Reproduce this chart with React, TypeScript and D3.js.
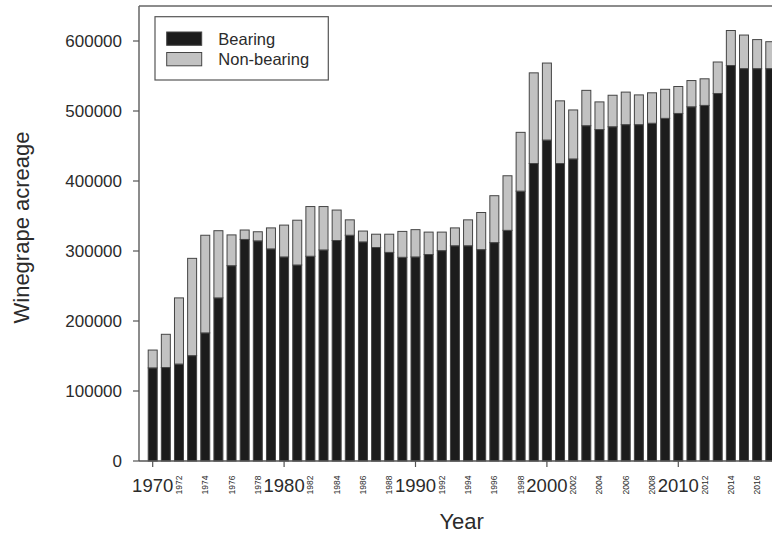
import React from "react";
import * as d3 from "d3";

const years: number[] = d3.range(1970, 2018);
const bearing: number[] = [
  133000, 133500, 138500, 150500, 183000, 233000, 279000, 316500, 314500, 303000,
  291500, 280000, 292500, 301500, 315000, 322500, 313000, 305000, 298000, 291000,
  291500, 295000, 300500, 307500, 307500, 302000, 312000, 329500, 385500, 425000,
  458500, 425000, 431500, 479000, 473500, 477500, 480500, 480500, 482500, 489500,
  496500, 506000, 508000, 525000, 565000, 560500, 560500, 560500,
];
const nonBearing: number[] = [
  25500, 47500, 94500, 139000, 139500, 96000, 44000, 13500, 13000, 30000,
  45500, 64000, 71000, 62000, 43500, 22000, 15500, 19000, 26000, 37000,
  39000, 32000, 26500, 25500, 37000, 53000, 67000, 78000, 84000, 129500,
  110000, 89500, 70000, 50500, 39500, 45000, 46500, 42500, 43500, 41500,
  38500, 37500, 38000, 45000, 50000, 48000, 41500, 38500,
];
const yTicks: number[] = [0, 100000, 200000, 300000, 400000, 500000, 600000];
const majorYears: number[] = [1970, 1980, 1990, 2000, 2010];
const minorYears: number[] = years.filter((y) => y % 2 === 0 && y % 10 !== 0);
const seriesNames: string[] = ["Bearing", "Non-bearing"];

const W = 772;
const H = 533;
const FONT = "'Liberation Sans', Arial, sans-serif";
const TXT = "#2b2b2b";
const BLACK = "#1c1c1c";
const GREY = "#c2c2c2";
const STROKE = "#454545";

export default function App() {
  const x = d3.scaleLinear().domain([1970, 2010]).range([152.7, 678.3]);
  const y = d3.scaleLinear().domain([0, 600000]).range([461, 41]);
  const bw = 9;
  const left = 139;
  const top = 6;
  const bottom = y(0);

  return (
    <svg
      width={W}
      height={H}
      style={{ position: "absolute", left: 0, top: 0, background: "#fff" }}
      fontFamily={FONT}
    >
      {/* bars */}
      {years.map((yr, i) => {
        const b = bearing[i];
        const nb = nonBearing[i];
        const cx = x(yr);
        return (
          <g key={yr}>
            <rect
              x={cx - bw / 2}
              y={y(b)}
              width={bw}
              height={y(0) - y(b)}
              fill={BLACK}
              stroke={STROKE}
              strokeWidth={1}
            />
            <rect
              x={cx - bw / 2}
              y={y(b + nb)}
              width={bw}
              height={y(b) - y(b + nb)}
              fill={GREY}
              stroke={STROKE}
              strokeWidth={1}
            />
          </g>
        );
      })}

      {/* frame */}
      <line x1={left} x2={W + 10} y1={top} y2={top} stroke="#666" strokeWidth={1.5} />
      <line x1={left} x2={left} y1={top} y2={bottom} stroke="#666" strokeWidth={1.5} />
      <line x1={left} x2={W + 10} y1={bottom} y2={bottom} stroke="#555" strokeWidth={1.5} />

      {/* y axis */}
      {yTicks.map((t) => (
        <g key={t}>
          <line x1={133} x2={left} y1={y(t)} y2={y(t)} stroke="#555" strokeWidth={1.2} />
          <text
            x={122}
            y={y(t)}
            textAnchor="end"
            dominantBaseline="central"
            fontSize={17}
            fill={TXT}
          >
            {t}
          </text>
        </g>
      ))}
      <text
        transform={`translate(29,227.5) rotate(-90)`}
        textAnchor="middle"
        fontSize={22}
        fill={TXT}
      >
        Winegrape acreage
      </text>

      {/* x axis */}
      {majorYears.map((yr) => (
        <g key={yr}>
          <line x1={x(yr)} x2={x(yr)} y1={bottom} y2={bottom + 6} stroke="#555" strokeWidth={1.2} />
          <text x={x(yr)} y={492} textAnchor="middle" fontSize={18.5} fill={TXT}>
            {yr}
          </text>
        </g>
      ))}
      {minorYears.map((yr) => (
        <text
          key={yr}
          transform={`translate(${x(yr)},485) rotate(-90)`}
          textAnchor="middle"
          dominantBaseline="central"
          fontSize={8.5}
          fill={TXT}
        >
          {yr}
        </text>
      ))}
      <text x={461.7} y={529} textAnchor="middle" fontSize={22} fill={TXT}>
        Year
      </text>

      {/* legend */}
      <rect x={155} y={16.7} width={173.3} height={63.3} fill="#fff" stroke="#555" strokeWidth={1.2} />
      {seriesNames.map((name, i) => (
        <g key={name}>
          <rect
            x={166.7}
            y={32 + i * 20.5}
            width={35}
            height={13.3}
            fill={i === 0 ? BLACK : GREY}
            stroke={STROKE}
            strokeWidth={1}
          />
          <text x={218.3} y={45 + i * 20} fontSize={16.5} fill={TXT}>
            {name}
          </text>
        </g>
      ))}
    </svg>
  );
}
